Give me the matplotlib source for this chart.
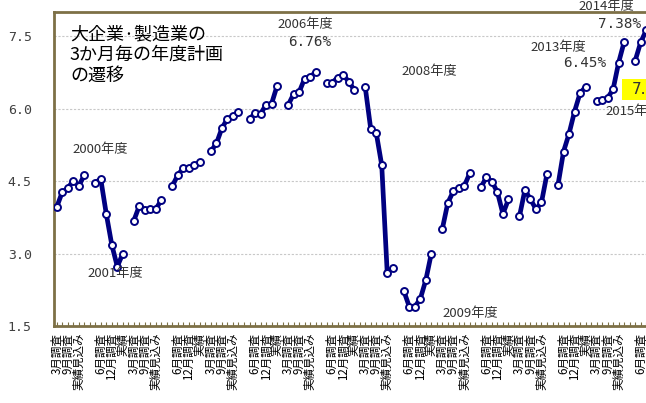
import matplotlib
matplotlib.use("Agg")
import matplotlib.pyplot as plt
from matplotlib.patches import Rectangle

plt.rcParams['font.family'] = ['Noto Sans CJK JP', 'DejaVu Sans']

# ---- data ----
years = list(range(2000, 2016))
survey_labels = ['3月調査', '6月調査', '9月調査', '12月調査', '実績見込み', '実績', '']
values = {
    2000: [3.96, 4.27, 4.35, 4.51, 4.40, 4.62],
    2001: [4.47, 4.54, 3.82, 3.18, 2.73, 3.00],
    2002: [3.68, 3.99, 3.91, 3.92, 3.92, 4.11],
    2003: [4.40, 4.63, 4.77, 4.77, 4.83, 4.90],
    2004: [5.12, 5.28, 5.60, 5.79, 5.84, 5.94],
    2005: [5.79, 5.90, 5.89, 6.08, 6.10, 6.47],
    2006: [6.07, 6.30, 6.34, 6.62, 6.65, 6.76],
    2007: [6.54, 6.54, 6.64, 6.70, 6.56, 6.39],
    2008: [6.45, 5.58, 5.50, 4.83, 2.59, 2.71],
    2009: [2.23, 1.90, 1.90, 2.06, 2.45, 3.00],
    2010: [3.51, 4.05, 4.29, 4.36, 4.40, 4.67],
    2011: [4.37, 4.58, 4.49, 4.27, 3.82, 4.12],
    2012: [3.77, 4.32, 4.12, 3.92, 4.06, 4.65],
    2013: [4.42, 5.11, 5.48, 5.94, 6.32, 6.45],
    2014: [6.15, 6.18, 6.22, 6.40, 6.95, 7.38],
    2015: [6.99, 7.37, 7.62],
}
yticks = [1.5, 3.0, 4.5, 6.0, 7.5]
title = '大企業·製造業の\n3か月毎の年度計画\nの遷移'
# year annotations: (text, x in category units, y value, ha)
year_notes = [
    ('2000年度', 8.0, 5.16, 'center'),
    ('2001年度', 10.6, 2.59, 'center'),
    ('2006年度', 45.2, 7.75, 'center'),
    ('2008年度', 67.6, 6.76, 'center'),
    ('2009年度', 75.1, 1.75, 'center'),
    ('2013年度', 91.1, 7.27, 'center'),
    ('2014年度', 99.7, 8.12, 'center'),
    ('2015年度', 99.7, 5.94, 'left'),
]
pct_notes = [
    ('6.76%', 45.9, 7.38),
    ('6.45%', 95.9, 6.95),
    ('7.38%', 102.2, 7.75),
]
highlight_text = '7.62%'

n_per_year = len(survey_labels)
n_cat = n_per_year * len(years)

W, H = 646, 403
fig = plt.figure(figsize=(W / 100, H / 100), dpi=100)
ax = fig.add_axes([53.95 / W, 1 - 326 / H, 617 / W, (326 - 12) / H])

navy = '#000080'
frame = '#7d7046'

for k, yr in enumerate(years):
    vals = values[yr]
    xs = [k * n_per_year + i for i in range(len(vals))]
    ax.plot(xs, vals, color=navy, lw=3.4, solid_capstyle='round', zorder=3,
            marker='o', markersize=5.0, markerfacecolor='white',
            markeredgecolor=navy, markeredgewidth=1.4)

ax.set_xlim(-0.5, n_cat - 0.5)
ax.set_ylim(1.5, 8.0)

ax.set_yticks(yticks)
ax.set_yticklabels([f'{v:.1f}' for v in yticks], fontsize=9.5, color='#404040',
                   family='DejaVu Sans Mono')
ax.tick_params(axis='y', length=0, pad=16)
ax.yaxis.grid(True, color='#c8c8c8', linestyle=(0, (2, 1.5)), lw=0.8)
ax.set_axisbelow(True)

xt = list(range(n_cat))
xl = [survey_labels[i % n_per_year] if i % 2 == 0 else '' for i in xt]
ax.set_xticks(xt)
ax.set_xticklabels(xl, rotation=90, fontsize=8.3, color='black', va='top', ha='center')
ax.tick_params(axis='x', direction='in', length=3, width=0.8, color=frame, pad=5)

for s in ['top', 'left', 'bottom']:
    ax.spines[s].set_color(frame)
    ax.spines[s].set_linewidth(2.0)
ax.spines['right'].set_visible(False)

fig.text(70 / W, 1 - 25 / H, title, fontsize=13, color='black', va='top', ha='left',
         linespacing=1.22)

for txt, x, y, ha in year_notes:
    ax.text(x, y, txt, fontsize=9.5, color='#333333', ha=ha, va='center', clip_on=False,
            zorder=4)
for txt, x, y in pct_notes:
    ax.text(x, y, txt, fontsize=10.3, color='#333333', ha='center', va='center',
            family='DejaVu Sans Mono', clip_on=False, zorder=4)

ax.add_patch(Rectangle((102.7, 6.18), 12, 0.44, facecolor='#ffff00', edgecolor='none',
                       clip_on=False, zorder=4))
ax.text(104.4, 6.40, highlight_text, fontsize=11, color='#333333', ha='left', va='center',
        family='DejaVu Sans', clip_on=False, zorder=5)

fig.savefig('out.png', dpi=100)
